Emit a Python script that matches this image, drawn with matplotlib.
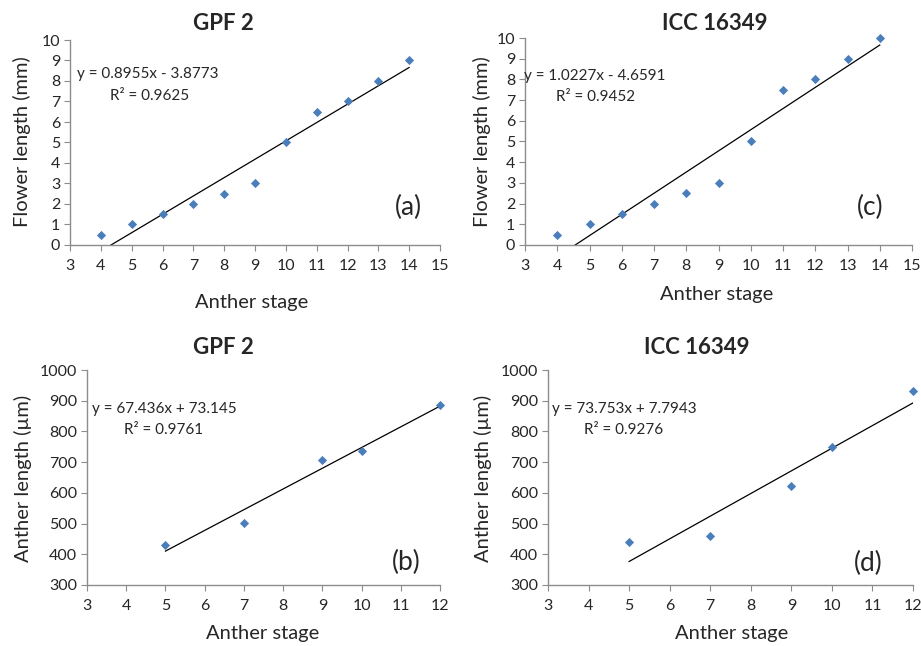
import numpy as np
import matplotlib
matplotlib.use("Agg")
import matplotlib.pyplot as plt

plt.rcParams['font.family'] = ['Lato', 'DejaVu Sans']

# ---- data ----
stage_flower = [4, 5, 6, 7, 8, 9, 10, 11, 12, 13, 14]
flower_gpf2 = [0.5, 1, 1.5, 2, 2.5, 3, 5, 6.5, 7, 8, 9]
flower_icc = [0.5, 1, 1.5, 2, 2.5, 3, 5, 7.5, 8, 9, 10]

stage_anther = [5, 7, 9, 10, 12]
anther_gpf2 = [430, 503, 707, 737, 885]
anther_icc = [440, 458, 622, 748, 933]

# trendline coefficients as printed
fit_a = (0.8955, -3.8773)
fit_c = (1.0227, -4.6591)
fit_b = (67.436, 73.145)
fit_d = (73.753, 7.7943)

W, H = 921, 646
fig = plt.figure(figsize=(W / 100, H / 100), dpi=100)

def px_axes(l, t, r, b):
    return fig.add_axes([l / W, 1 - b / H, (r - l) / W, (b - t) / H])

def ftext(x, y, s, **kw):
    fig.text(x / W, 1 - y / H, s, ha='center', va='center', **kw)

GRAY = '#8c8c8c'
TXT = '#262626'
BLUE = '#4a7ebb'

def style(ax, xlim, ylim, xticks, yticks):
    ax.set_xlim(*xlim)
    ax.set_ylim(*ylim)
    ax.set_xticks(xticks)
    ax.set_yticks(yticks)
    for s in ['top', 'right']:
        ax.spines[s].set_visible(False)
    for s in ['left', 'bottom']:
        ax.spines[s].set_color(GRAY)
        ax.spines[s].set_linewidth(1.0)
    ax.tick_params(direction='out', length=4, color=GRAY, labelsize=11.5,
                   labelcolor=TXT, pad=3)
    ax.tick_params(axis='x', pad=6)

def panel(ax, x, y, fit, xlim, ylim, xticks, yticks):
    style(ax, xlim, ylim, xticks, yticks)
    xs = np.array([x[0], x[-1]], dtype=float)
    m, c = fit
    if m * xs[0] + c < ylim[0]:
        xs[0] = (ylim[0] - c) / m
    ax.plot(xs, m * xs + c, color='black', lw=0.9, zorder=2)
    ax.scatter(x, y, marker='D', s=22, color=BLUE, zorder=3, linewidths=0,
               clip_on=False)

# (a)
ax_a = px_axes(70, 40, 440, 245)
panel(ax_a, stage_flower, flower_gpf2, fit_a, (3, 15), (0, 10),
      range(3, 16), range(0, 11))
# (c)
ax_c = px_axes(525, 38, 912, 245)
panel(ax_c, stage_flower, flower_icc, fit_c, (3, 15), (0, 10),
      range(3, 16), range(0, 11))
# (b)
ax_b = px_axes(87, 370, 440, 585)
panel(ax_b, stage_anther, anther_gpf2, fit_b, (3, 12), (300, 1000),
      range(3, 13), range(300, 1001, 100))
# (d)
ax_d = px_axes(548, 370, 913, 585)
panel(ax_d, stage_anther, anther_icc, fit_d, (3, 12), (300, 1000),
      range(3, 13), range(300, 1001, 100))

# titles
tkw = dict(fontsize=16, fontweight='bold', color=TXT)
ftext(223, 23, 'GPF 2', **tkw)
ftext(715, 24, 'ICC 16349', **tkw)
ftext(223, 348, 'GPF 2', **tkw)
ftext(697, 348, 'ICC 16349', **tkw)

# axis labels
lkw = dict(fontsize=14.5, color=TXT)
ftext(252, 302, 'Anther stage', **lkw)
ftext(717, 295, 'Anther stage', **lkw)
ftext(263, 633, 'Anther stage', **lkw)
ftext(732, 633, 'Anther stage', **lkw)
ftext(22, 142, 'Flower length (mm)', rotation=90, **lkw)
ftext(482, 142, 'Flower length (mm)', rotation=90, **lkw)
ftext(23, 478, 'Anther length (µm)', rotation=90, **lkw)
ftext(483, 478, 'Anther length (µm)', rotation=90, **lkw)

# equations
ekw = dict(fontsize=11, color=TXT)
ftext(148, 74, 'y = 0.8955x - 3.8773', **ekw)
ftext(150, 96, 'R² = 0.9625', **ekw)
ftext(595, 76, 'y = 1.0227x - 4.6591', **ekw)
ftext(596, 97, 'R² = 0.9452', **ekw)
ftext(164, 409, 'y = 67.436x + 73.145', **ekw)
ftext(164, 430, 'R² = 0.9761', **ekw)
ftext(624, 409, 'y = 73.753x + 7.7943', **ekw)
ftext(624, 430, 'R² = 0.9276', **ekw)

# panel letters
pkw = dict(fontsize=19, color=TXT)
ftext(408, 207, '(a)', **pkw)
ftext(870, 207, '(c)', **pkw)
ftext(406, 562, '(b)', **pkw)
ftext(868, 563, '(d)', **pkw)

fig.savefig('out.png', dpi=100)
